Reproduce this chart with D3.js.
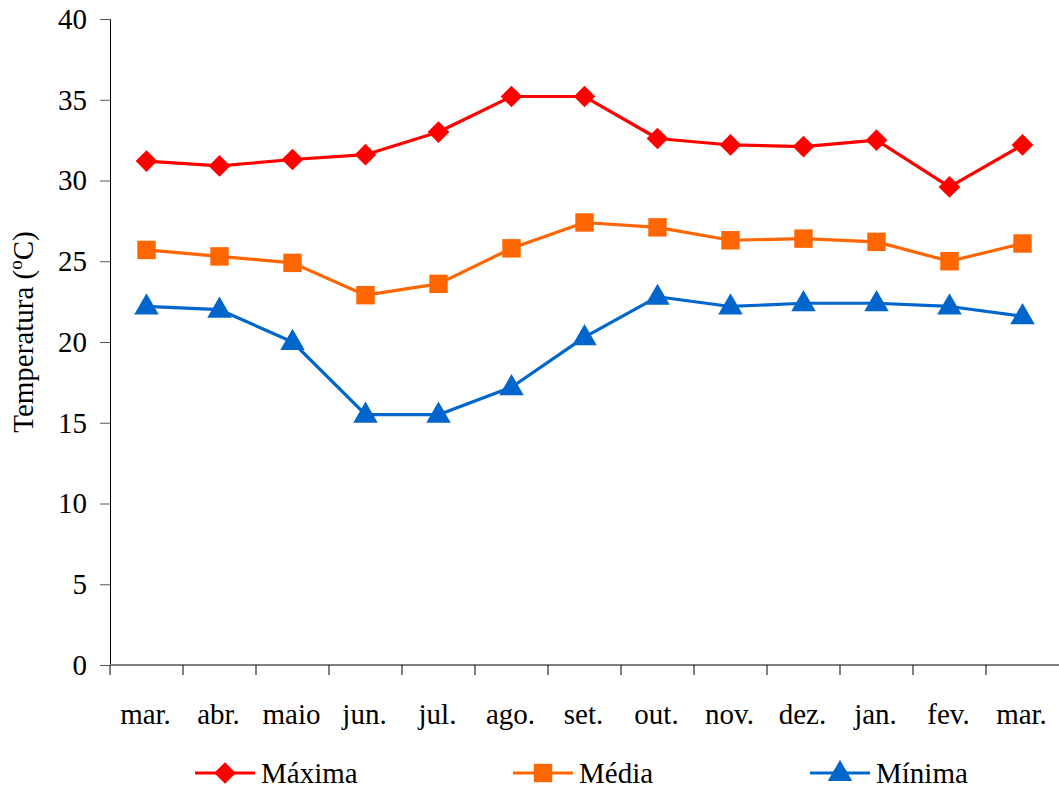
<!DOCTYPE html>
<html><head><meta charset="utf-8">
<script src="https://cdn.jsdelivr.net/npm/d3@7"></script>
<style>html,body{margin:0;padding:0;background:#fff;}svg{display:block;}
svg text{font-family:"Liberation Serif","Times New Roman",Tinos,"DejaVu Serif",serif;}</style>
</head><body>
<svg id="c" width="1059" height="789"></svg>
<script>
const months = ["mar.","abr.","maio","jun.","jul.","ago.","set.","out.","nov.","dez.","jan.","fev.","mar."];
const maxima = [31.2,30.9,31.3,31.6,33.0,35.2,35.2,32.6,32.2,32.1,32.5,29.6,32.2];
const media  = [25.7,25.3,24.9,22.9,23.6,25.8,27.4,27.1,26.3,26.4,26.2,25.0,26.1];
const minima = [22.2,22.0,20.0,15.5,15.5,17.2,20.3,22.8,22.2,22.4,22.4,22.2,21.6];
const yTicks = [0,5,10,15,20,25,30,35,40];
const seriesNames = ["Máxima","Média","Mínima"];
const seriesColors = ["#FF0000","#FF6600","#0066CC"];
const seriesSymbols = [d3.symbolDiamond2, d3.symbolSquare, d3.symbolTriangle];

const svg = d3.select("#c");
const mLeft = 110, mRight = 1059, mTop = 19, mBottom = 665;
const fs = 29;

const x = d3.scaleBand().domain(d3.range(months.length)).range([mLeft, mRight]);
const y = d3.scaleLinear().domain([0,40]).range([mBottom, mTop]);

// Y axis
const yAxis = svg.append("g").attr("transform",`translate(${mLeft},0)`)
  .call(d3.axisLeft(y).tickValues(yTicks).tickSize(10).tickPadding(13).tickFormat(d3.format("d")));
yAxis.attr("font-family",null);
yAxis.select(".domain").attr("stroke","#000").attr("stroke-width",1);
yAxis.selectAll(".tick line").attr("stroke","#555");
yAxis.selectAll("text").attr("font-size",fs).attr("fill","#000");

// X axis (category boundaries ticks)
const xg = svg.append("g");
xg.append("line").attr("x1",mLeft).attr("x2",mRight).attr("y1",mBottom).attr("y2",mBottom)
  .attr("stroke","#808080").attr("stroke-width",2);
const bounds = d3.range(months.length).map(i => x(i));
xg.selectAll("line.t").data(bounds).join("line").attr("class","t")
  .attr("x1",d=>d).attr("x2",d=>d).attr("y1",mBottom).attr("y2",mBottom+10)
  .attr("stroke","#000").attr("stroke-width",1);
xg.selectAll("text").data(months).join("text")
  .attr("x",(d,i)=>x(i)+x.bandwidth()/2 - 1).attr("y",724)
  .attr("text-anchor","middle").attr("font-size",fs).attr("fill","#000")
  .text(d=>d);

// Y title
const yt = svg.append("text").attr("transform","translate(33,332) rotate(-90)")
  .attr("text-anchor","middle").attr("font-size",fs).attr("fill","#000");
yt.append("tspan").text("Temperatura (");
yt.append("tspan").attr("dy",-11).attr("font-size",19).text("o");
yt.append("tspan").attr("dy",11).text("C)");

// Series
const allSeries = [maxima, media, minima];
const symSizes = [300, 340, 260];
const line = d3.line().x((d,i)=>x(i)+x.bandwidth()/2).y(d=>y(d));
allSeries.forEach((vals, s) => {
  svg.append("path").datum(vals).attr("d", line).attr("fill","none")
    .attr("stroke", seriesColors[s]).attr("stroke-width",3.2).attr("stroke-linejoin","round");
  svg.append("g").selectAll("path").data(vals).join("path")
    .attr("transform",(d,i)=>`translate(${x(i)+x.bandwidth()/2},${y(d) + (s===2?1:0)})`)
    .attr("d", d3.symbol().type(seriesSymbols[s]).size(symSizes[s]))
    .attr("fill", seriesColors[s]);
});

// Legend
const legX = [195, 513, 810];
const legY = 773;
seriesNames.forEach((name, s) => {
  const g = svg.append("g");
  g.append("line").attr("x1",legX[s]).attr("x2",legX[s]+60).attr("y1",legY).attr("y2",legY)
    .attr("stroke",seriesColors[s]).attr("stroke-width",3.2);
  g.append("path").attr("transform",`translate(${legX[s]+30},${legY + (s===2?1:0)})`)
    .attr("d", d3.symbol().type(seriesSymbols[s]).size(symSizes[s])).attr("fill",seriesColors[s]);
  g.append("text").attr("x",legX[s]+66).attr("y",legY+10)
    .attr("font-size",fs).attr("fill","#000").text(name);
});
</script>
</body></html>
